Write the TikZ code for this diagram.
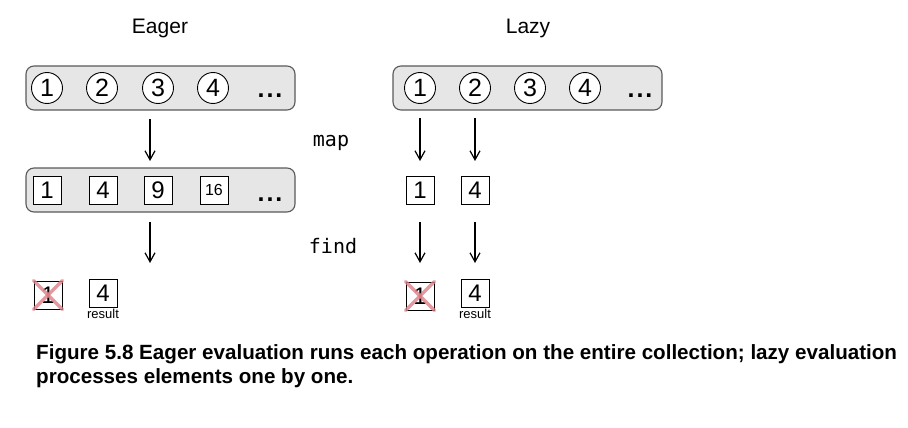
\documentclass[tikz,border=0pt]{standalone}
\usepackage{fontspec}
\setmainfont{Liberation Sans}
\newfontfamily\codefont{DejaVu Sans Mono}
\usetikzlibrary{arrows.meta}
\definecolor{panelgray}{HTML}{E6E6E6}
\definecolor{panelline}{HTML}{5A5A5A}
\definecolor{crossred}{HTML}{DC8088}
\newcommand{\moredots}{.\kern2pt.\kern2pt.}
\tikzset{
  panel/.style={draw=panelline, fill=panelgray, rounded corners=8pt, line width=1.1pt,
    minimum width=269pt, minimum height=44pt},
  elem/.style={circle, draw, fill=white, line width=0.9pt, minimum size=31pt, inner sep=0pt,
    font=\fontsize{25}{25}\selectfont},
  cell/.style={draw, fill=white, line width=0.9pt, minimum size=28pt, inner sep=0pt,
    font=\fontsize{24}{24}\selectfont},
  more/.style={anchor=base, font=\bfseries\fontsize{25}{25}\selectfont},
  flow/.style={-{Straight Barb[length=9pt,width=10pt]}, line width=1.2pt},
  strike/.style={crossred, opacity=0.8, line width=3.5pt, line cap=round},
  opname/.style={font=\codefont\fontsize{20}{20}\selectfont},
  title/.style={font=\fontsize{21}{21}\selectfont},
  tag/.style={font=\fontsize{13}{13}\selectfont, anchor=north, inner sep=1pt},
  caption/.style={anchor=base west, font=\bfseries\fontsize{20.6}{20.6}\selectfont, inner sep=0pt},
}
\begin{document}
\begin{tikzpicture}[x=1pt,y=-1pt]
\useasboundingbox (0,0) rectangle (908,428);
% titles
  \node[title] (eagerT) at (160,28) {Eager};
  \node[title] (lazyT) at (528,28) {Lazy};
% eager side
  \node[panel] (etop) at (160.5,88) {};
  \node[elem] (ee1) at (47,88) {1};
  \node[elem] (ee2) at (102,88) {2};
  \node[elem] (ee3) at (158,88) {3};
  \node[elem] (ee4) at (213,88) {4};
  \node[more] (edots1) at (270,97) {\moredots};
  \coordinate (em1) at (150,119);
  \coordinate (em2) at (150,161);
  \draw[flow] (em1) -- (em2);
  \node[panel] (emid) at (160.5,190) {};
  \node[cell] (ec1) at (47,190) {1};
  \node[cell] (ec2) at (103,190) {4};
  \node[cell] (ec3) at (158,190) {9};
  \node[cell, font=\fontsize{16}{16}\selectfont] (ec4) at (214,190) {16};
  \node[more] (edots2) at (270,201) {\moredots};
  \coordinate (ef1) at (150,222);
  \coordinate (ef2) at (150,263);
  \draw[flow] (ef1) -- (ef2);
  \node[cell] (er1) at (48,295) {1};
  \draw[strike] (er1.north west) -- (er1.south east);
  \draw[strike] (er1.north east) -- (er1.south west);
  \node[cell] (er2) at (103,293) {4};
  \node[tag] (eres) at (er2.south) {result};
% operations
  \node[opname] (mapT) at (331,143) {map};
  \node[opname] (findT) at (333,246) {find};
% lazy side
  \node[panel] (ltop) at (527.5,88) {};
  \node[elem] (le1) at (420,88) {1};
  \node[elem] (le2) at (475,88) {2};
  \node[elem] (le3) at (530,88) {3};
  \node[elem] (le4) at (585,88) {4};
  \node[more] (ldots1) at (640,97) {\moredots};
  \coordinate (lma1) at (420,118);
  \coordinate (lma2) at (420,161);
  \coordinate (lmb1) at (475,118);
  \coordinate (lmb2) at (475,161);
  \draw[flow] (lma1) -- (lma2);
  \draw[flow] (lmb1) -- (lmb2);
  \node[cell] (lc1) at (420,190) {1};
  \node[cell] (lc2) at (475,190) {4};
  \coordinate (lfa1) at (420,222);
  \coordinate (lfa2) at (420,263);
  \coordinate (lfb1) at (475,222);
  \coordinate (lfb2) at (475,263);
  \draw[flow] (lfa1) -- (lfa2);
  \draw[flow] (lfb1) -- (lfb2);
  \node[cell] (lr1) at (420,296) {1};
  \draw[strike] (lr1.north west) -- (lr1.south east);
  \draw[strike] (lr1.north east) -- (lr1.south west);
  \node[cell] (lr2) at (475,293) {4};
  \node[tag] (lres) at (lr2.south) {result};
% caption
  \node[caption] (cap1) at (36,359)
    {Figure 5.8 Eager evaluation runs each operation on the entire collection; lazy evaluation};
  \node[caption] (cap2) at (36,383) {processes elements one by one.};
\end{tikzpicture}
\end{document}
